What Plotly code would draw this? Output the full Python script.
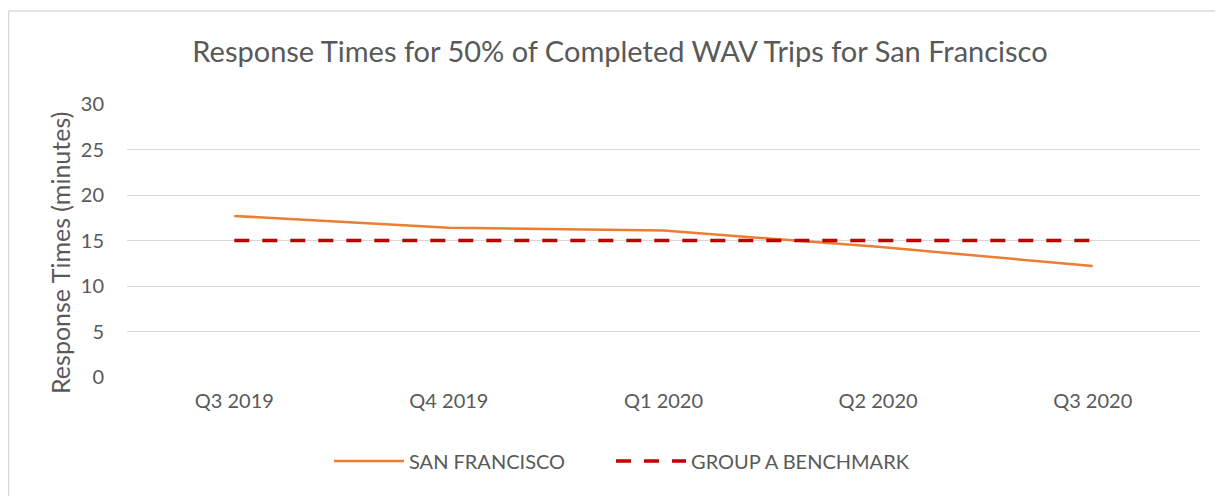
import plotly.graph_objects as go

quarters = ["Q3 2019", "Q4 2019", "Q1 2020", "Q2 2020", "Q3 2020"]
san_francisco = [17.7, 16.4, 16.1, 14.3, 12.2]
benchmark = [15, 15, 15, 15, 15]
y_ticks = [0, 5, 10, 15, 20, 25, 30]

# page body has an 8px offset; work in target-pixel coordinates minus 8
OFF = 8
W, H = 1223 - OFF, 496 - OFF
L, R = 127 - OFF, 1223 - 1200
T, B = 104 - OFF, 496 - 377
pw, ph = W - L - R, H - T - B

def px_x(p):
    return (p - OFF - L) / pw

def px_y(p):
    return (H - B - (p - OFF)) / ph

font = "Lato"
grey = "#595959"
NB = "\u00a0"
fig = go.Figure()
fig.add_trace(go.Scatter(x=quarters, y=san_francisco, mode="lines", name="SAN FRANCISCO" + NB * 8,
                         line=dict(color="#ED7D31", width=2.5)))
fig.add_trace(go.Scatter(x=quarters, y=benchmark, mode="lines", name="GROUP A BENCHMARK",
                         line=dict(color="#C00000", width=3.5, dash="15px,13px")))

fig.update_layout(
    width=W, height=H,
    margin=dict(l=L, r=R, t=T, b=B),
    paper_bgcolor="white", plot_bgcolor="white",
    font=dict(family=font, color=grey, size=20),
    title=dict(text="Response Times for 50% of Completed WAV Trips for San Francisco",
               x=(620 - OFF) / W, xanchor="center", y=1 - (52 - OFF) / H, yanchor="middle",
               font=dict(size=29, color=grey, family=font)),
    xaxis=dict(showgrid=False, showline=False, ticks="", tickfont=dict(size=20),
               range=[-0.5, 4.5]),
    yaxis=dict(range=[0, 30], tickvals=y_ticks, showgrid=True, gridcolor="#d9d9d9",
               gridwidth=1.3, zeroline=False, ticks="", tickfont=dict(size=20)),
    legend=dict(orientation="h", x=px_x(329), xanchor="left", y=px_y(461), yanchor="middle",
                font=dict(size=20, color=grey), itemwidth=70),
    showlegend=True,
)
fig.add_annotation(text="Response Times (minutes)", xref="paper", yref="paper",
                   x=px_x(60), y=px_y(253), xanchor="center", yanchor="middle",
                   textangle=-90, showarrow=False, font=dict(size=25, color=grey, family=font))
fig.update_xaxes(ticklabelstandoff=10)
fig.update_yaxes(ticklabelstandoff=22)
fig.add_shape(type="line", xref="paper", yref="paper", x0=px_x(8.5), x1=px_x(1240),
              y0=px_y(11), y1=px_y(11), line=dict(color="#d9d9d9", width=1.5))
fig.add_shape(type="line", xref="paper", yref="paper", x0=px_x(8.5), x1=px_x(8.5),
              y0=px_y(11), y1=px_y(520), line=dict(color="#d9d9d9", width=1.5))

fig.write_html("out.html")
